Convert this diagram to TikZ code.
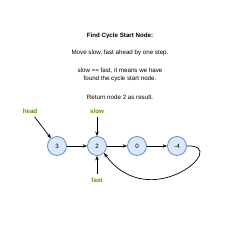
\documentclass[tikz,border=0pt]{standalone}
\usepackage{fontspec}
\setmainfont{Liberation Sans}
\usetikzlibrary{arrows.meta}

\begin{document}
\begin{tikzpicture}[x=1pt,y=1pt,font=\fontsize{6.2}{7.6}\selectfont]
\definecolor{cycleFill}{HTML}{DAE8FC}
\definecolor{cycleLine}{HTML}{6C8EBF}
\definecolor{pointerText}{HTML}{4D9900}
\tikzset{
  listnode/.style={circle,draw=cycleLine,fill=cycleFill,line width=0.8pt,minimum size=19pt,inner sep=0pt},
  pointer/.style={text=pointerText,font=\fontsize{6.2}{7.6}\selectfont\bfseries},
  link/.style={-{Stealth[length=4.5pt,width=3.5pt]},line width=0.7pt}
}
\useasboundingbox (0,0) rectangle (240,240);
% explanation text
\node (title) at (120,204) {\bfseries Find Cycle Start Node:};
\node (step) at (120,187) {Move slow, fast ahead by one step.};
\node[align=center] (meet) at (120,165) {slow == fast, it means we have\\found the cycle start node.};
\node (result) at (120,143) {Return node 2 as result.};
% the list
\node[listnode] (n3) at (57,94) {3};
\node[listnode] (n2) at (97,94) {2};
\node[listnode] (n0) at (137,94) {0};
\node[listnode] (n4) at (177,94) {-4};
\draw[link] (n3) -- (n2);
\draw[link] (n2) -- (n0);
\draw[link] (n0) -- (n4);
\draw[link] (n4.east) .. controls (232,96) and (150,24) .. (n2.south east);
% pointers
\node[pointer] (head) at (30,129) {head};
\node[pointer] (slow) at (97,129) {slow};
\node[pointer] (fast) at (97,60) {fast};
\draw[link] (head) -- (n3);
\draw[link] (slow) -- (n2);
\draw[link] (fast) -- (n2);
\end{tikzpicture}
\end{document}
